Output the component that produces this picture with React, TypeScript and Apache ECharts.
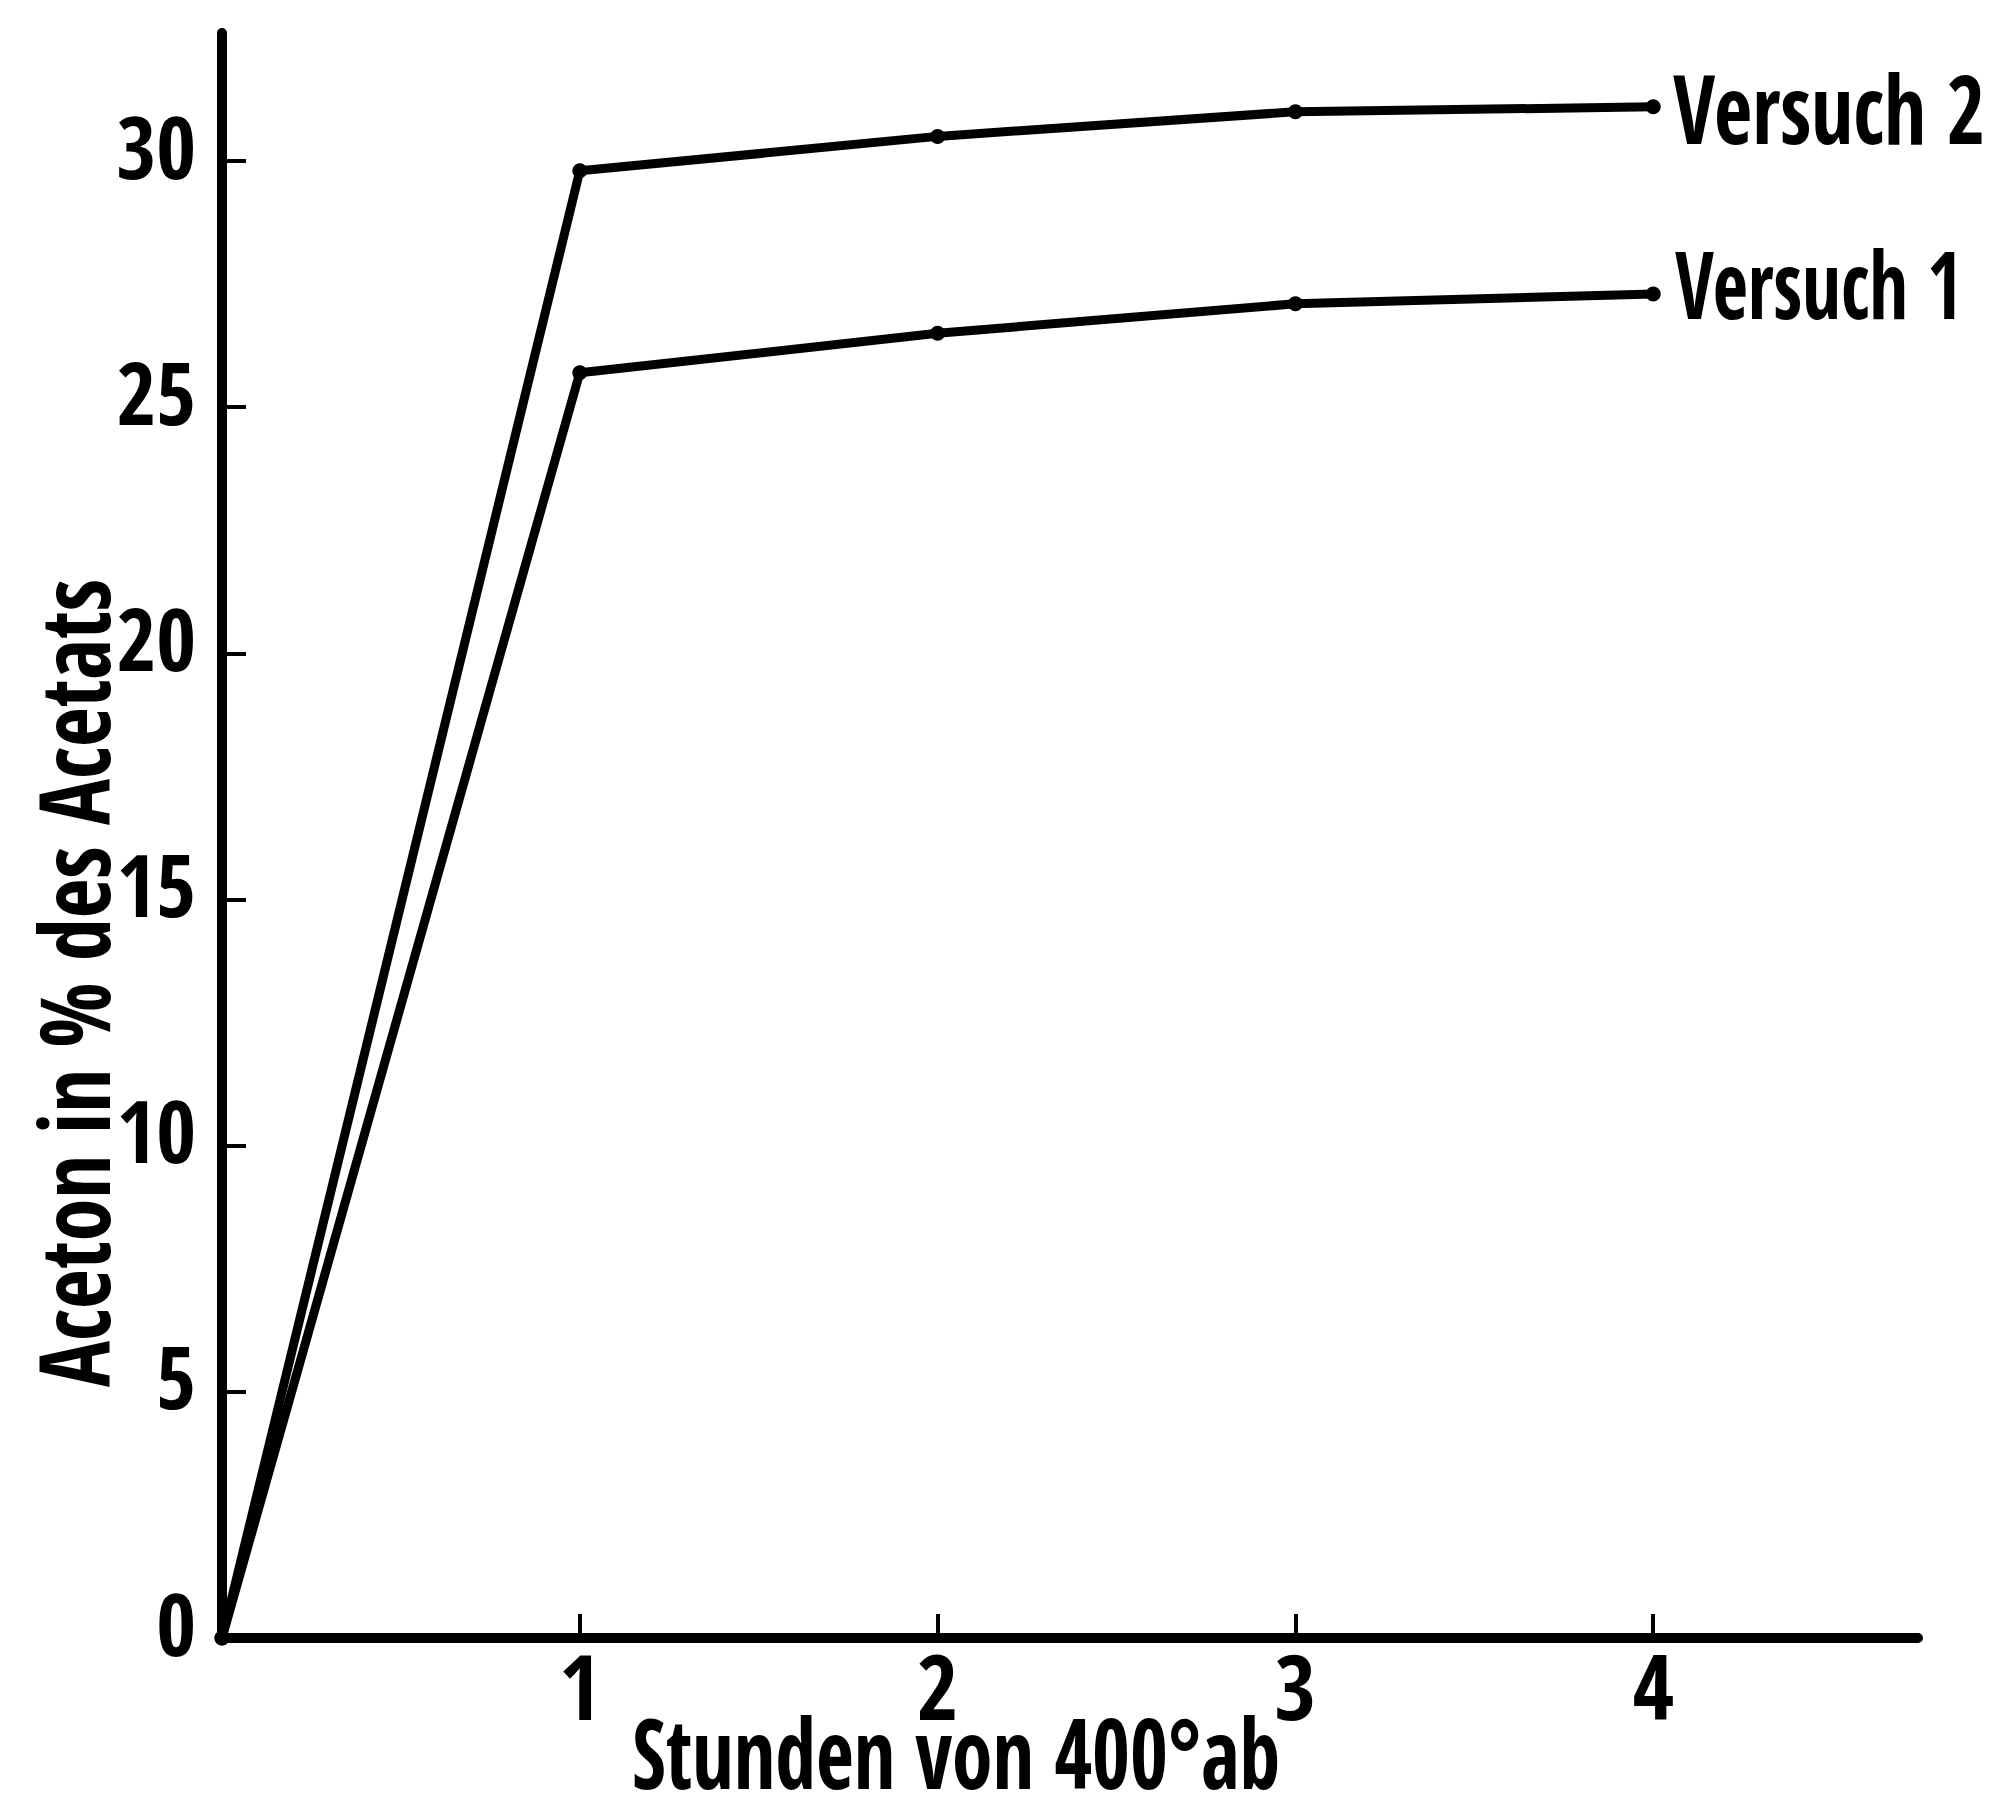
import React, { useEffect, useRef } from "react";
import * as echarts from "echarts";

const hours = [0, 1, 2, 3, 4];
const versuch1 = [0, 25.7, 26.5, 27.1, 27.3];
const versuch2 = [0, 29.8, 30.5, 31.0, 31.1];
const yTicks = [0, 5, 10, 15, 20, 25, 30];
const xTicks = [1, 2, 3, 4];
const seriesNames = ["Versuch 1", "Versuch 2"];
const xName = "Stunden von 400°ab";
const yName = "Aceton in % des Acetats";

const FONT = "'Open Sans Condensed', 'Roboto Condensed', 'DejaVu Sans Condensed', sans-serif";

function fitScale(text: string, size: number, weight: string, family: string, target: number) {
  const c = document.createElement("canvas").getContext("2d")!;
  c.font = `${weight} ${size}px ${family}`;
  const w = c.measureText(text).width;
  return w > 0 ? target / w : 1;
}

export default function App() {
  const ref = useRef<HTMLDivElement>(null);
  useEffect(() => {
    document.body.style.margin = "0";
    const chart = echarts.init(ref.current!, null, { renderer: "svg" });
    const mk = (name: string, vals: number[]) => ({
      name,
      type: "line",
      data: hours.map((h, i) => [h, vals[i]]),
      symbol: "circle",
      symbolSize: 15,
      lineStyle: { color: "#000", width: 9 },
      itemStyle: { color: "#000" },
      z: 5,
    });
    chart.setOption({
      animation: false,
      backgroundColor: "#fff",
      grid: { left: 222, right: 77, top: 33, bottom: 182 },
      xAxis: {
        type: "value",
        min: 0,
        max: 4.74,
        interval: 1,
        axisLine: { lineStyle: { color: "#000", width: 10 } },
        axisTick: {
          customValues: xTicks,
          inside: true,
          length: 24,
          lineStyle: { color: "#000", width: 4 },
        },
        axisLabel: {
          customValues: xTicks,
          margin: 2,
          color: "#000",
          fontFamily: FONT,
          fontWeight: "bold",
          fontSize: 90,
        },
        splitLine: { show: false },
      },
      yAxis: {
        type: "value",
        min: 0,
        max: 32.6,
        interval: 5,
        axisLine: { lineStyle: { color: "#000", width: 10 } },
        axisTick: {
          customValues: yTicks,
          inside: true,
          length: 24,
          lineStyle: { color: "#000", width: 4 },
        },
        axisLabel: {
          customValues: yTicks,
          margin: 26,
          verticalAlign: "bottom",
          lineHeight: 32,
          color: "#000",
          fontFamily: FONT,
          fontWeight: "bold",
          fontSize: 86,
        },
        splitLine: { show: false },
      },
      series: [mk(seriesNames[0], versuch1), mk(seriesNames[1], versuch2)],
    });

    const txt = (text: string, x: number, y: number, size: number, targetW: number, extra: any = {}) => ({
      type: "text",
      x,
      y,
      scaleX: fitScale(text, size, "bold", FONT, targetW),
      ...extra,
      style: {
        text,
        fill: "#000",
        fontSize: size,
        fontWeight: "bold",
        fontFamily: FONT,
        align: extra.align || "center",
        textAlign: extra.align || "center",
        verticalAlign: "middle",
        textVerticalAlign: "middle",
      },
    });
    const end1 = chart.convertToPixel({ xAxisIndex: 0, yAxisIndex: 0 }, [hours[4], versuch1[4]]) as number[];
    const end2 = chart.convertToPixel({ xAxisIndex: 0, yAxisIndex: 0 }, [hours[4], versuch2[4]]) as number[];
    chart.setOption({
      graphic: [
        txt(xName, 956, 1750, 98, 648),
        txt(yName, 72, 983, 98, 808, { rotation: Math.PI / 2 }),
        txt(seriesNames[1], end2[0] + 20, end2[1], 96, 312, { align: "left" }),
        txt(seriesNames[0], end1[0] + 22, end1[1] - 12, 94, 287, { align: "left" }),
      ],
    });
    return () => chart.dispose();
  }, []);
  return <div ref={ref} style={{ width: 1995, height: 1820 }} />;
}
